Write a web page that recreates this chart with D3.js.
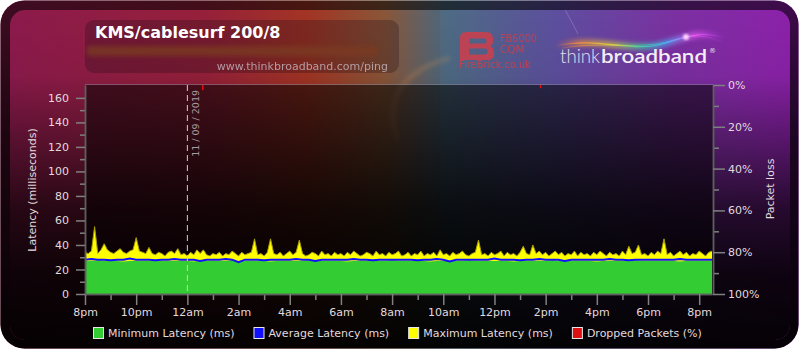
<!DOCTYPE html>
<html>
<head>
<meta charset="utf-8">
<script src="https://cdn.jsdelivr.net/npm/d3@7"></script>
<style>
body { margin: 0; background: #fff; }
svg { display: block; font-family: "DejaVu Sans", sans-serif; }
</style>
</head>
<body>
<div id="chart"></div>
<script>
// ---- data ----
var chartTitle = 'KMS/cablesurf 200/8';
var pingUrl = 'www.thinkbroadband.com/ping';
var dateMark = '11 / 09 / 2019';
var dateMarkHour = 4;
var hourLabels = ['8pm','10pm','12am','2am','4am','6am','8am','10am','12pm','2pm','4pm','6pm','8pm'];
var latencyTicks = [0, 20, 40, 60, 80, 100, 120, 140, 160];
var lossTicks = [0, 20, 40, 60, 80, 100];

// max latency sampled every 7.5 minutes from 8pm
var maxStep = 7.5;
var maxLatency = [
  34,33,35,55,33,36,41,36,34,33,35,37,34,33,35,36,46,35,34,33,
  38,33,32,34,33,31,34,35,33,37,32,33,31,34,32,36,33,36,32,31,
  33,32,34,31,33,32,35,33,31,34,32,33,34,45,32,33,31,34,45,33,
  32,34,31,33,35,32,34,44,33,31,32,34,33,31,35,32,33,31,34,32,
  33,31,34,32,35,33,31,32,34,33,31,35,32,33,31,34,32,33,35,31,
  32,34,31,33,32,35,31,33,32,34,31,36,32,33,31,34,32,33,35,32,
  31,33,34,44,32,33,31,34,32,33,35,31,34,32,33,31,34,39,33,32,
  40,33,35,32,34,31,33,35,32,34,31,33,32,35,31,34,32,33,31,34,
  32,35,33,31,34,32,33,31,35,32,39,33,34,40,32,33,31,34,32,35,
  33,45,32,34,31,33,35,32,34,31,33,32,35,33,31,34,35
];

// min and average latency sampled every 15 minutes
var minStep = 15;
var minLatency = [
  27,27,27.5,27,27,27,26.5,27,27,27, 27,27.5,27,27,27,27,27,26.5,27,27,
  27,27,27,27.5,27,27,27,27,27,26.5, 27,27,27,27,27,27.5,27,27,27,27,
  27,26.5,27,27,27,27,27,27,27.5,27, 27,27,27,27,26.5,27,27,27,27,27,
  27.5,27,27,27,27,27,27,26.5,27,27, 27,27,27,27.5,27,27,27,27,27,27,
  26.5,27,27,27,27,27,27.5,27,27,27, 27,27,27,26.5,27,27,27,27,27
];
var avgLatency = [
  28,28.5,28,28,27.5,28,28,29,28,28, 28,27.5,28,28,28.5,28,28,28,27,28,
  28,28,28.5,28,26,28,28,28,27.5,28, 28,28,28,28.5,28,28,27,28,28,28,
  28,28,28.5,28,28,27.5,28,28,28,28, 28,28,27.5,28,28,28.5,28,26.5,28,28,
  28,28,28,28,29,28,28,28,27.5,28, 28,28.5,28,28,28,27,28,28,28,28,
  28,28,28.5,28,28,27.5,28,28,28,28, 28,28,28,28.5,28,28,28,28,28
];

// dropped packets (hour after 8pm, percent)
var dropHours = [4.6, 17.8];
var dropPct = [2.5, 1.5];

var legendNames = ['Minimum Latency (ms)', 'Average Latency (ms)', 'Maximum Latency (ms)', 'Dropped Packets (%)'];
var legendColors = ['#33cc33', '#1010ff', '#ffff00', '#dd1111'];

// ---- drawing ----
var W = 800, H = 350;
var plot = {left: 85, right: 712, top: 85, bottom: 294};

var svg = d3.select('#chart').append('svg')
    .attr('width', W)
    .attr('height', H);
var defs = svg.append('defs');

const addLinear = (id, x1, y1, x2, y2, stops) => {
    var g = defs.append('linearGradient').attr('id', id)
        .attr('gradientUnits', 'userSpaceOnUse')
        .attr('x1', x1).attr('y1', y1).attr('x2', x2).attr('y2', y2);
    stops.forEach(s => {
        g.append('stop').attr('offset', s[0]).attr('stop-color', s[1]).attr('stop-opacity', s[2] === undefined ? 1 : s[2]);
    });
};

var bgStops = [
    [0, '#8c1a4c'], [0.25, '#96203a'], [0.38, '#a33424'], [0.48, '#8a5638'],
    [0.56, '#4a6880'], [0.7, '#5a4a9c'], [0.85, '#7a2aa0'], [1, '#8c1aa8']
];
addLinear('bgH', 10, 0, 790, 0, bgStops);
addLinear('bgV', 0, 10, 0, 340, [
    [0, '#000', 0], [0.2, '#000', 0.05], [0.4, '#000', 0.38], [0.6, '#000', 0.72],
    [0.8, '#000', 0.9], [1, '#000', 0.96]
]);
addLinear('frameV', 0, 0, 0, 350, [[0, '#000', 0.55], [0.4, '#000', 0.8], [1, '#000', 0.97]]);
addLinear('swoosh', 555, 0, 725, 0, [
    [0, '#ff7a30', 0], [0.15, '#ff9a30'], [0.35, '#e0e040'], [0.5, '#40e0a0'],
    [0.65, '#40c0ff'], [0.82, '#ff60ff'], [1, '#c040ff', 0]
]);

defs.append('filter').attr('id', 'blur2').attr('x', '-20%').attr('y', '-50%').attr('width', '140%').attr('height', '200%')
    .append('feGaussianBlur').attr('stdDeviation', 2);
defs.append('filter').attr('id', 'blur1').attr('x', '-20%').attr('y', '-50%').attr('width', '140%').attr('height', '200%')
    .append('feGaussianBlur').attr('stdDeviation', 1);

defs.append('clipPath').attr('id', 'innerClip')
    .append('rect').attr('x', 10).attr('y', 10).attr('width', 780).attr('height', 330).attr('rx', 15);

// outer frame
svg.append('rect').attr('x', 0.5).attr('y', 0.5).attr('width', 798).attr('height', 348).attr('rx', 24)
    .attr('fill', 'url(#bgH)');
svg.append('rect').attr('x', 0.5).attr('y', 0.5).attr('width', 798).attr('height', 348).attr('rx', 24)
    .attr('fill', 'url(#frameV)');

// inner panel
var inner = svg.append('g').attr('clip-path', 'url(#innerClip)');
inner.append('rect').attr('x', 10).attr('y', 10).attr('width', 780).attr('height', 330).attr('fill', 'url(#bgH)');
inner.append('rect').attr('x', 440).attr('y', 10).attr('width', 350).attr('height', 330)
    .attr('fill', '#9ab8d8').attr('opacity', 0.05);
// faint light streaks in the background
inner.append('path').attr('d', 'M450,58 C405,70 382,98 398,140')
    .attr('fill', 'none').attr('stroke', '#f0a050').attr('stroke-width', 5).attr('opacity', 0.2).attr('filter', 'url(#blur2)');
inner.append('path').attr('d', 'M560,0 C565,10 572,22 578,34')
    .attr('fill', 'none').attr('stroke', '#ffffff').attr('stroke-width', 1).attr('opacity', 0.2);
inner.append('rect').attr('x', 10).attr('y', 10).attr('width', 780).attr('height', 330).attr('fill', 'url(#bgV)');

// title box
svg.append('rect').attr('x', 85).attr('y', 20).attr('width', 314).attr('height', 53).attr('rx', 9)
    .attr('fill', '#1e0a14').attr('opacity', 0.28);
svg.append('rect').attr('x', 87).attr('y', 46).attr('width', 290).attr('height', 10)
    .attr('fill', '#7a3a22').attr('opacity', 0.8).attr('filter', 'url(#blur2)');
svg.append('text').attr('x', 95).attr('y', 38)
    .attr('font-size', 16).attr('font-weight', 'bold').attr('fill', '#ffffff')
    .text(chartTitle);
svg.append('text').attr('x', 388).attr('y', 70).attr('text-anchor', 'end')
    .attr('font-size', 11).attr('fill', '#c0b0b8').attr('opacity', 0.85)
    .text(pingUrl);

// FireBrick logo
var fb = svg.append('g').attr('fill', '#c8404f').attr('opacity', 0.9);
fb.append('path').attr('fill-rule', 'evenodd')
    .attr('d', 'M460,38 Q460,32 466,32 L486,32 Q493,32 493,39 L493,41 Q493,44.5 490,46 Q494,47.5 494,52 L494,54 Q494,60 487,60 L460,60 Z ' +
               'M469,38.5 L484,38.5 Q486.5,38.5 486.5,41 Q486.5,43.5 484,43.5 L469,43.5 Z ' +
               'M469,48.5 L485,48.5 Q487.5,48.5 487.5,51.5 Q487.5,54.5 485,54.5 L469,54.5 Z');
fb.append('text').attr('x', 500).attr('y', 41.5).attr('font-size', 10.5)
    .attr('textLength', 37).attr('lengthAdjust', 'spacingAndGlyphs').text('FB6000');
fb.append('text').attr('x', 500).attr('y', 52.5).attr('font-size', 10.5).text('CQM');
fb.append('text').attr('x', 459).attr('y', 67.5).attr('font-size', 10)
    .attr('textLength', 72).attr('lengthAdjust', 'spacingAndGlyphs').text('FireBrick.co.uk');

// thinkbroadband logo
svg.append('path').attr('d', 'M555,46 C600,36 632,54 666,43 S706,33 726,38')
    .attr('fill', 'none').attr('stroke', 'url(#swoosh)').attr('stroke-width', 7).attr('opacity', 0.55).attr('filter', 'url(#blur2)');
svg.append('path').attr('d', 'M555,46 C600,36 632,54 666,43 S706,33 726,38')
    .attr('fill', 'none').attr('stroke', 'url(#swoosh)').attr('stroke-width', 1.2).attr('opacity', 0.8);
svg.append('path').attr('d', 'M562,48 C606,41 640,50 670,41 S708,37 722,42')
    .attr('fill', 'none').attr('stroke', 'url(#swoosh)').attr('stroke-width', 0.8).attr('opacity', 0.7);
svg.append('circle').attr('cx', 686).attr('cy', 37).attr('r', 3).attr('fill', '#ffd0ff').attr('filter', 'url(#blur1)');
svg.append('text').attr('x', 560).attr('y', 63).attr('font-family', 'Lato, sans-serif')
    .attr('font-size', 20).attr('font-weight', 300).attr('fill', '#e4e0ea')
    .attr('textLength', 40).attr('lengthAdjust', 'spacingAndGlyphs').text('think');
svg.append('text').attr('x', 601).attr('y', 63).attr('font-family', 'Lato, sans-serif')
    .attr('font-size', 20).attr('font-weight', 600).attr('fill', '#f2eef6')
    .attr('textLength', 106).attr('lengthAdjust', 'spacingAndGlyphs').text('broadband');
svg.append('text').attr('x', 709).attr('y', 53).attr('font-size', 7).attr('fill', '#e4e0ea').text('\u00ae');

// scales
var x = d3.scaleLinear().domain([0, 24.5]).range([plot.left, plot.right]);
var y = d3.scaleLinear().domain([0, 170.5]).range([plot.bottom, plot.top]);
var yLoss = d3.scaleLinear().domain([0, 100]).range([plot.top, plot.bottom]);

// plot background
svg.append('rect').attr('x', plot.left).attr('y', plot.top)
    .attr('width', plot.right - plot.left + 1).attr('height', plot.bottom - plot.top)
    .attr('fill', '#000').attr('opacity', 0.52);
svg.append('line').attr('x1', plot.left).attr('x2', plot.right + 1).attr('y1', plot.top - 0.5).attr('y2', plot.top - 0.5)
    .attr('stroke', '#8a8a9a').attr('opacity', 0.5);

// series
var maxPts = maxLatency.map((v, i) => ({t: i * maxStep / 60, v: v}));
var minPts = minLatency.map((v, i) => ({t: i * minStep / 60, v: v}));
var avgPts = avgLatency.map((v, i) => ({t: i * minStep / 60, v: v}));

var area = d3.area().x(d => x(d.t)).y0(y(0)).y1(d => y(d.v));
svg.append('path').datum(maxPts).attr('d', area).attr('fill', '#ffff00');
// darker rim where the thin max spikes blur into the background
svg.append('path').datum(maxPts)
    .attr('d', d3.line().x(d => x(d.t)).y(d => y(d.v)))
    .attr('fill', 'none').attr('stroke', '#a89c00').attr('stroke-width', 1);
svg.append('path').datum(minPts).attr('d', area).attr('fill', '#33cc33');
svg.append('path').datum(avgPts)
    .attr('d', d3.line().x(d => x(d.t)).y(d => y(d.v)))
    .attr('fill', 'none').attr('stroke', '#1010ff').attr('stroke-width', 2);

svg.selectAll('.drop').data(dropHours).enter().append('rect')
    .attr('class', 'drop')
    .attr('x', d => x(d) - 0.75)
    .attr('y', yLoss(0))
    .attr('width', 1.5)
    .attr('height', (d, i) => yLoss(dropPct[i]) - yLoss(0))
    .attr('fill', '#dd1111');

// date marker
svg.append('line').attr('x1', x(dateMarkHour)).attr('x2', x(dateMarkHour))
    .attr('y1', plot.top).attr('y2', plot.bottom)
    .attr('stroke', '#d0d0d0').attr('stroke-width', 1).attr('stroke-dasharray', '6,4');
svg.append('text')
    .attr('transform', 'translate(' + (x(dateMarkHour) + 12) + ',' + (plot.top + 5) + ') rotate(-90)')
    .attr('text-anchor', 'end').attr('font-size', 9.5).attr('fill', '#a89aa0')
    .text(dateMark);

// axes
const styleAxis = g => {
    g.select('.domain').attr('stroke', '#5e5e5e').attr('stroke-width', 1.5);
    g.selectAll('.tick line').attr('stroke', '#808080').attr('stroke-width', 1.5);
    g.selectAll('.tick text').attr('fill', '#e2dade').attr('font-size', 11).attr('font-family', '"DejaVu Sans", sans-serif');
};

var hourTicks = d3.range(0, 25, 2);
svg.append('g').attr('transform', 'translate(0,' + plot.bottom + ')')
    .call(d3.axisBottom(x).tickValues(d3.range(1, 25, 2)).tickSize(6).tickFormat('').tickSizeOuter(0))
    .call(styleAxis);
svg.append('g').attr('transform', 'translate(0,' + plot.bottom + ')')
    .call(d3.axisBottom(x).tickValues(hourTicks).tickSize(11).tickPadding(3).tickSizeOuter(0)
        .tickFormat((d, i) => hourLabels[i]))
    .call(styleAxis);

svg.append('g').attr('transform', 'translate(' + plot.left + ',0)')
    .call(d3.axisLeft(y).tickValues(d3.range(10, 170, 20)).tickSize(5).tickFormat('').tickSizeOuter(0))
    .call(styleAxis);
svg.append('g').attr('transform', 'translate(' + plot.left + ',0)')
    .call(d3.axisLeft(y).tickValues(latencyTicks).tickSize(9).tickPadding(7).tickSizeOuter(0))
    .call(styleAxis);

svg.append('g').attr('transform', 'translate(' + (plot.right + 1) + ',0)')
    .call(d3.axisRight(yLoss).tickValues(d3.range(10, 100, 20)).tickSize(6).tickFormat('').tickSizeOuter(0))
    .call(styleAxis);
svg.append('g').attr('transform', 'translate(' + (plot.right + 1) + ',0)')
    .call(d3.axisRight(yLoss).tickValues(lossTicks).tickSize(12).tickPadding(3).tickSizeOuter(0)
        .tickFormat(d => d + '%'))
    .call(styleAxis);

svg.append('text')
    .attr('transform', 'translate(36,190) rotate(-90)')
    .attr('text-anchor', 'middle').attr('font-size', 11).attr('fill', '#e2dade')
    .text('Latency (milliseconds)');
svg.append('text')
    .attr('transform', 'translate(774,189) rotate(-90)')
    .attr('text-anchor', 'middle').attr('font-size', 11).attr('fill', '#e2dade')
    .text('Packet loss');

// legend
var legend = svg.append('g').attr('transform', 'translate(93,327)');
var lx = 0;
legendNames.forEach((name, i) => {
    legend.append('rect').attr('x', lx + 0.5).attr('y', 0.5).attr('width', 10).attr('height', 11)
        .attr('fill', legendColors[i]).attr('stroke', '#e8e8e8').attr('stroke-width', 1);
    var t = legend.append('text').attr('x', lx + 15).attr('y', 10)
        .attr('font-size', 11).attr('fill', '#e2dade').text(name);
    lx += 15 + t.node().getComputedTextLength() + 19;
});
</script>
</body>
</html>
